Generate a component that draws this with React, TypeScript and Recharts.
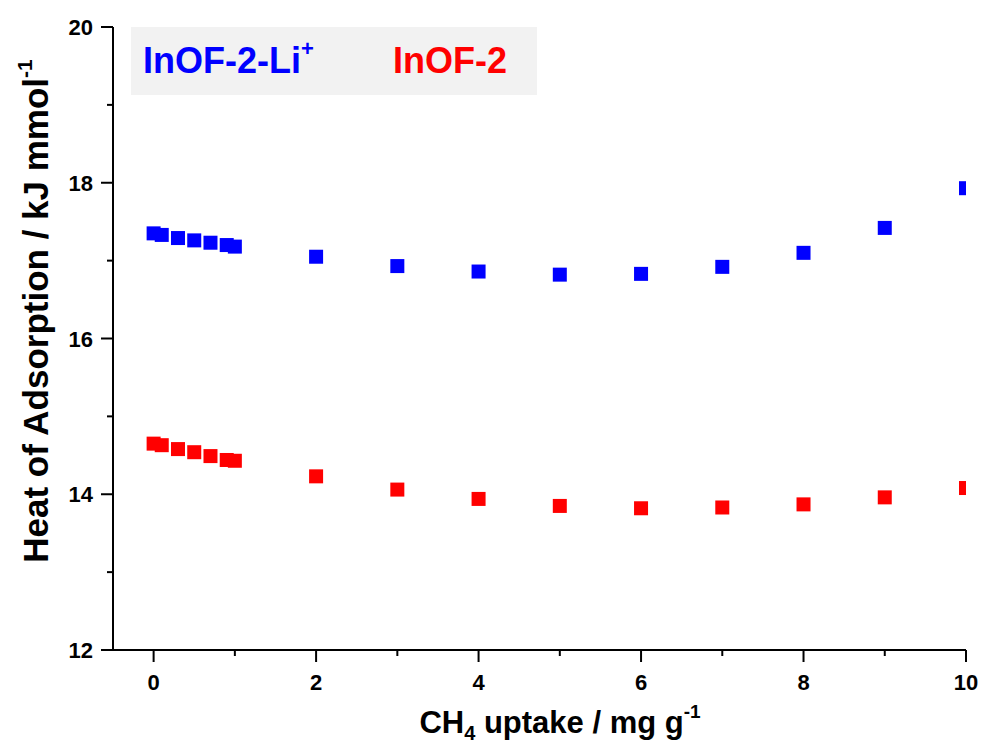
import { ScatterChart, Scatter, XAxis, YAxis } from "recharts";

const uptake = [0, 0.1, 0.3, 0.5, 0.7, 0.9, 1, 2, 3, 4, 5, 6, 7, 8, 9, 10];
const liHeat = [17.35, 17.33, 17.29, 17.26, 17.23, 17.2, 17.18, 17.05, 16.93, 16.86, 16.82, 16.83, 16.92, 17.1, 17.42, 17.93];
const plainHeat = [14.65, 14.63, 14.58, 14.54, 14.49, 14.44, 14.43, 14.23, 14.06, 13.94, 13.85, 13.82, 13.83, 13.87, 13.96, 14.08];
const xTicks = [0, 1, 2, 3, 4, 5, 6, 7, 8, 9, 10];
const yTicks = [12, 13, 14, 15, 16, 17, 18, 19, 20];

const FONT = "'Liberation Sans', Arial, sans-serif";

const liData = uptake.map((x, i) => ({ x, y: liHeat[i] }));
const plainData = uptake.map((x, i) => ({ x, y: plainHeat[i] }));

const square = (color: string) => (props: any) =>
  <rect x={props.cx - 7} y={props.cy - 7} width={14} height={14} fill={color} />;

const XTick = ({ x, y, payload }: any) => {
  const major = payload.value % 2 === 0;
  return (
    <g>
      <line x1={x} y1={y} x2={x} y2={y + (major ? 12 : 6)} stroke="#000" strokeWidth={2} />
      {major && (
        <text x={x} y={y + 40} textAnchor="middle" fontFamily={FONT} fontWeight="bold" fontSize={22} fill="#000">
          {payload.value}
        </text>
      )}
    </g>
  );
};

const YTick = ({ x, y, payload }: any) => {
  const major = payload.value % 2 === 0;
  return (
    <g>
      <line x1={x} y1={y} x2={x - (major ? 12 : 6)} y2={y} stroke="#000" strokeWidth={2} />
      {major && (
        <text x={x - 20} y={y + 8} textAnchor="end" fontFamily={FONT} fontWeight="bold" fontSize={22} fill="#000">
          {payload.value}
        </text>
      )}
    </g>
  );
};

export default function App() {
  return (
    <div style={{ position: "absolute", left: 0, top: 0, width: 983, height: 743, background: "#fff" }}>
      <ScatterChart width={983} height={743} margin={{ top: 27, right: 17, bottom: 0, left: 0 }}>
        <XAxis
          type="number"
          dataKey="x"
          domain={[-0.5, 10]}
          ticks={xTicks}
          allowDataOverflow
          height={93}
          tickSize={0}
          tickMargin={0}
          tickLine={false}
          tick={<XTick />}
          axisLine={{ stroke: "#000", strokeWidth: 2 }}
          interval={0}
        />
        <YAxis
          type="number"
          dataKey="y"
          domain={[12, 20]}
          ticks={yTicks}
          allowDataOverflow
          width={113}
          tickSize={0}
          tickMargin={0}
          tickLine={false}
          tick={<YTick />}
          axisLine={{ stroke: "#000", strokeWidth: 2 }}
          interval={0}
        />
        <Scatter data={liData} shape={square("#0000ff")} isAnimationActive={false} />
        <Scatter data={plainData} shape={square("#ff0000")} isAnimationActive={false} />
      </ScatterChart>
      <svg width={983} height={743} style={{ position: "absolute", left: 0, top: 0, pointerEvents: "none" }}>
        <rect x={131} y={27} width={406} height={68} fill="#f2f2f2" />
        <text x={143} y={73} fontFamily={FONT} fontWeight="bold" fontSize={36} fill="#0000ff">
          InOF-2-Li
          <tspan fontSize={22} dy={-17}>+</tspan>
        </text>
        <text x={393} y={73} fontFamily={FONT} fontWeight="bold" fontSize={36} fill="#ff0000">
          InOF-2
        </text>
        <text
          x={48}
          y={311}
          transform="rotate(-90, 48, 311)"
          textAnchor="middle"
          fontFamily={FONT}
          fontWeight="bold"
          fontSize={35}
          fill="#000"
        >
          Heat of Adsorption / kJ mmol
          <tspan fontSize={21} dy={-16}>-1</tspan>
        </text>
        <text x={560} y={733} textAnchor="middle" fontFamily={FONT} fontWeight="bold" fontSize={31} fill="#000">
          CH
          <tspan fontSize={20} dy={7}>4</tspan>
          <tspan dy={-7}> uptake / mg g</tspan>
          <tspan fontSize={19} dy={-15}>-1</tspan>
        </text>
      </svg>
    </div>
  );
}
